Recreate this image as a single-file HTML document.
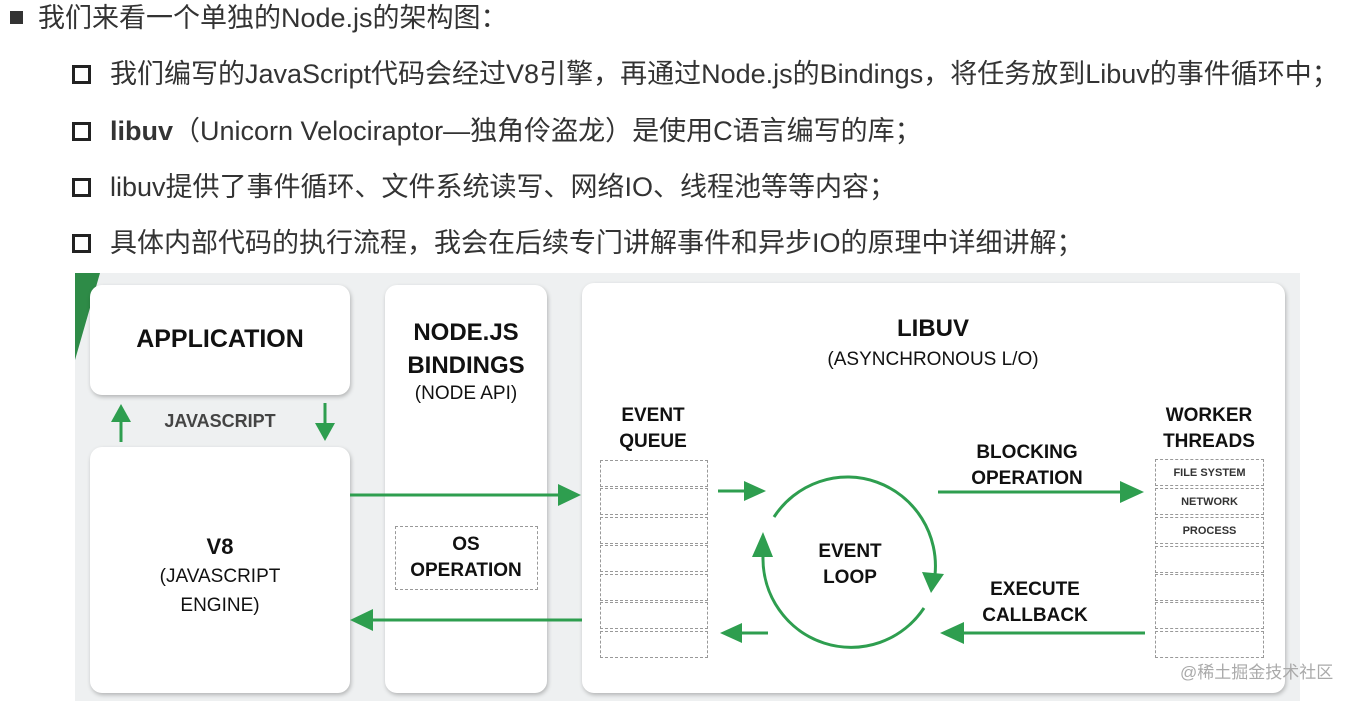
<!DOCTYPE html>
<html><head><meta charset="utf-8"><style>
body{margin:0;width:1361px;height:701px;background:#fff;position:relative;overflow:hidden;font-family:"Liberation Sans","Noto Sans CJK SC",sans-serif;}
.t{position:absolute;color:#333;font-size:27px;white-space:nowrap;line-height:32px;}
.sq{position:absolute;width:13px;height:13px;border:3px solid #222;}
.box{position:absolute;background:#fff;border-radius:12px;box-shadow:1px 2px 4px rgba(0,0,0,.25);}
.l{position:absolute;text-align:center;font-weight:bold;color:#111;white-space:nowrap;transform:translateX(-50%);}
.n{font-weight:normal;}
.cell{position:absolute;border:1px dashed #999;box-sizing:border-box;font-size:11px;color:#333;text-align:center;line-height:26px;font-weight:bold;}
</style></head><body>
<div style="position:absolute;left:10px;top:11px;width:13px;height:13px;background:#333"></div>
<div class="t" style="left:38px;top:2px">我们来看一个单独的Node.js的架构图：</div>
<div class="sq" style="left:72px;top:65px"></div>
<div class="t" style="left:110px;top:58px">我们编写的JavaScript代码会经过V8引擎，再通过Node.js的Bindings，将任务放到Libuv的事件循环中；</div>
<div class="sq" style="left:72px;top:122px"></div>
<div class="t" style="left:110px;top:115px"><b>libuv</b>（Unicorn Velociraptor—独角伶盗龙）是使用C语言编写的库；</div>
<div class="sq" style="left:72px;top:178px"></div>
<div class="t" style="left:110px;top:171px">libuv提供了事件循环、文件系统读写、网络IO、线程池等等内容；</div>
<div class="sq" style="left:72px;top:234px"></div>
<div class="t" style="left:110px;top:227px">具体内部代码的执行流程，我会在后续专门讲解事件和异步IO的原理中详细讲解；</div>

<div style="position:absolute;left:75px;top:273px;width:1225px;height:428px;background:#eef0f1"></div>
<svg style="position:absolute;left:0;top:0" width="1361" height="701">
<polygon points="75,273 100,273 75,360" fill="#2e8b47"/>
</svg>
<div class="box" style="left:90px;top:285px;width:260px;height:110px"></div>
<div class="box" style="left:90px;top:447px;width:260px;height:246px"></div>
<div class="box" style="left:385px;top:285px;width:162px;height:408px"></div>
<div class="box" style="left:582px;top:283px;width:703px;height:410px"></div>

<div class="l" style="left:220px;top:325px;font-size:25px">APPLICATION</div>
<div class="l" style="left:220px;top:411px;font-size:18px;color:#444">JAVASCRIPT</div>
<div class="l" style="left:220px;top:533px;font-size:22px;line-height:28px">V8<br><span class="n" style="font-size:19px;line-height:26px">(JAVASCRIPT<br>ENGINE)</span></div>
<div class="l" style="left:466px;top:316px;font-size:24px;line-height:33px">NODE.JS<br>BINDINGS<br><span class="n" style="font-size:19px;line-height:24px;display:block">(NODE API)</span></div>
<div style="position:absolute;left:395px;top:526px;width:143px;height:64px;border:1px dashed #999;box-sizing:border-box"></div>
<div class="l" style="left:466px;top:532px;font-size:19px;line-height:26px;font-weight:bold">OS<br>OPERATION</div>
<div class="l" style="left:933px;top:315px;font-size:24px">LIBUV</div>
<div class="l n" style="left:933px;top:349px;font-size:19px">(ASYNCHRONOUS L/O)</div>
<div class="l" style="left:653px;top:403px;font-size:19px;line-height:26px">EVENT<br>QUEUE</div>
<div class="l" style="left:1209px;top:403px;font-size:19px;line-height:26px">WORKER<br>THREADS</div>
<div class="l" style="left:1027px;top:440px;font-size:19px;line-height:26px">BLOCKING<br>OPERATION</div>
<div class="l" style="left:1035px;top:577px;font-size:19px;line-height:26px">EXECUTE<br>CALLBACK</div>
<div class="l" style="left:850px;top:539px;font-size:19px;line-height:26px">EVENT<br>LOOP</div>

<div class="cell" style="left:600px;top:460px;width:108px;height:27px"></div>
<div class="cell" style="left:600px;top:488px;width:108px;height:27px"></div>
<div class="cell" style="left:600px;top:517px;width:108px;height:27px"></div>
<div class="cell" style="left:600px;top:545px;width:108px;height:27px"></div>
<div class="cell" style="left:600px;top:574px;width:108px;height:27px"></div>
<div class="cell" style="left:600px;top:602px;width:108px;height:27px"></div>
<div class="cell" style="left:600px;top:631px;width:108px;height:27px"></div>

<div class="cell" style="left:1155px;top:459px;width:109px;height:27px">FILE SYSTEM</div>
<div class="cell" style="left:1155px;top:488px;width:109px;height:27px">NETWORK</div>
<div class="cell" style="left:1155px;top:517px;width:109px;height:27px">PROCESS</div>
<div class="cell" style="left:1155px;top:546px;width:109px;height:27px"></div>
<div class="cell" style="left:1155px;top:574px;width:109px;height:27px"></div>
<div class="cell" style="left:1155px;top:602px;width:109px;height:27px"></div>
<div class="cell" style="left:1155px;top:631px;width:109px;height:27px"></div>

<svg style="position:absolute;left:0;top:0" width="1361" height="701" fill="#2e9e4f" stroke="#2e9e4f">
<g stroke-width="3">
<line x1="121" y1="442" x2="121" y2="420"/>
<line x1="325" y1="403" x2="325" y2="425"/>
<line x1="350" y1="495" x2="560" y2="495"/>
<line x1="582" y1="620" x2="372" y2="620"/>
<line x1="718" y1="491" x2="745" y2="491"/>
<line x1="768" y1="633" x2="740" y2="633"/>
<line x1="938" y1="492" x2="1122" y2="492"/>
<line x1="1145" y1="633" x2="962" y2="633"/>
<path d="M774,517 A88,89 0 0 1 935,575" fill="none"/>
<path d="M924,608 A88,89 0 0 1 763,556" fill="none"/>
</g>
<g stroke="none">
<polygon points="121,404 111,422 131,422"/>
<polygon points="325,441 315,423 335,423"/>
<polygon points="581,495 558,484 558,506"/>
<polygon points="350,620 373,609 373,631"/>
<polygon points="766,491 744,481 744,501"/>
<polygon points="720,633 742,623 742,643"/>
<polygon points="1144,492 1120,481 1120,503"/>
<polygon points="940,633 964,622 964,644"/>
<polygon points="931,593 922,572 944,574"/>
<polygon points="763,532 752,557 773,557"/>
</g>
</svg>
<div style="position:absolute;left:1180px;top:658px;font-size:17px;color:#aaa;font-family:'Liberation Sans','Noto Sans CJK SC',sans-serif">@稀土掘金技术社区</div>
</body></html>
